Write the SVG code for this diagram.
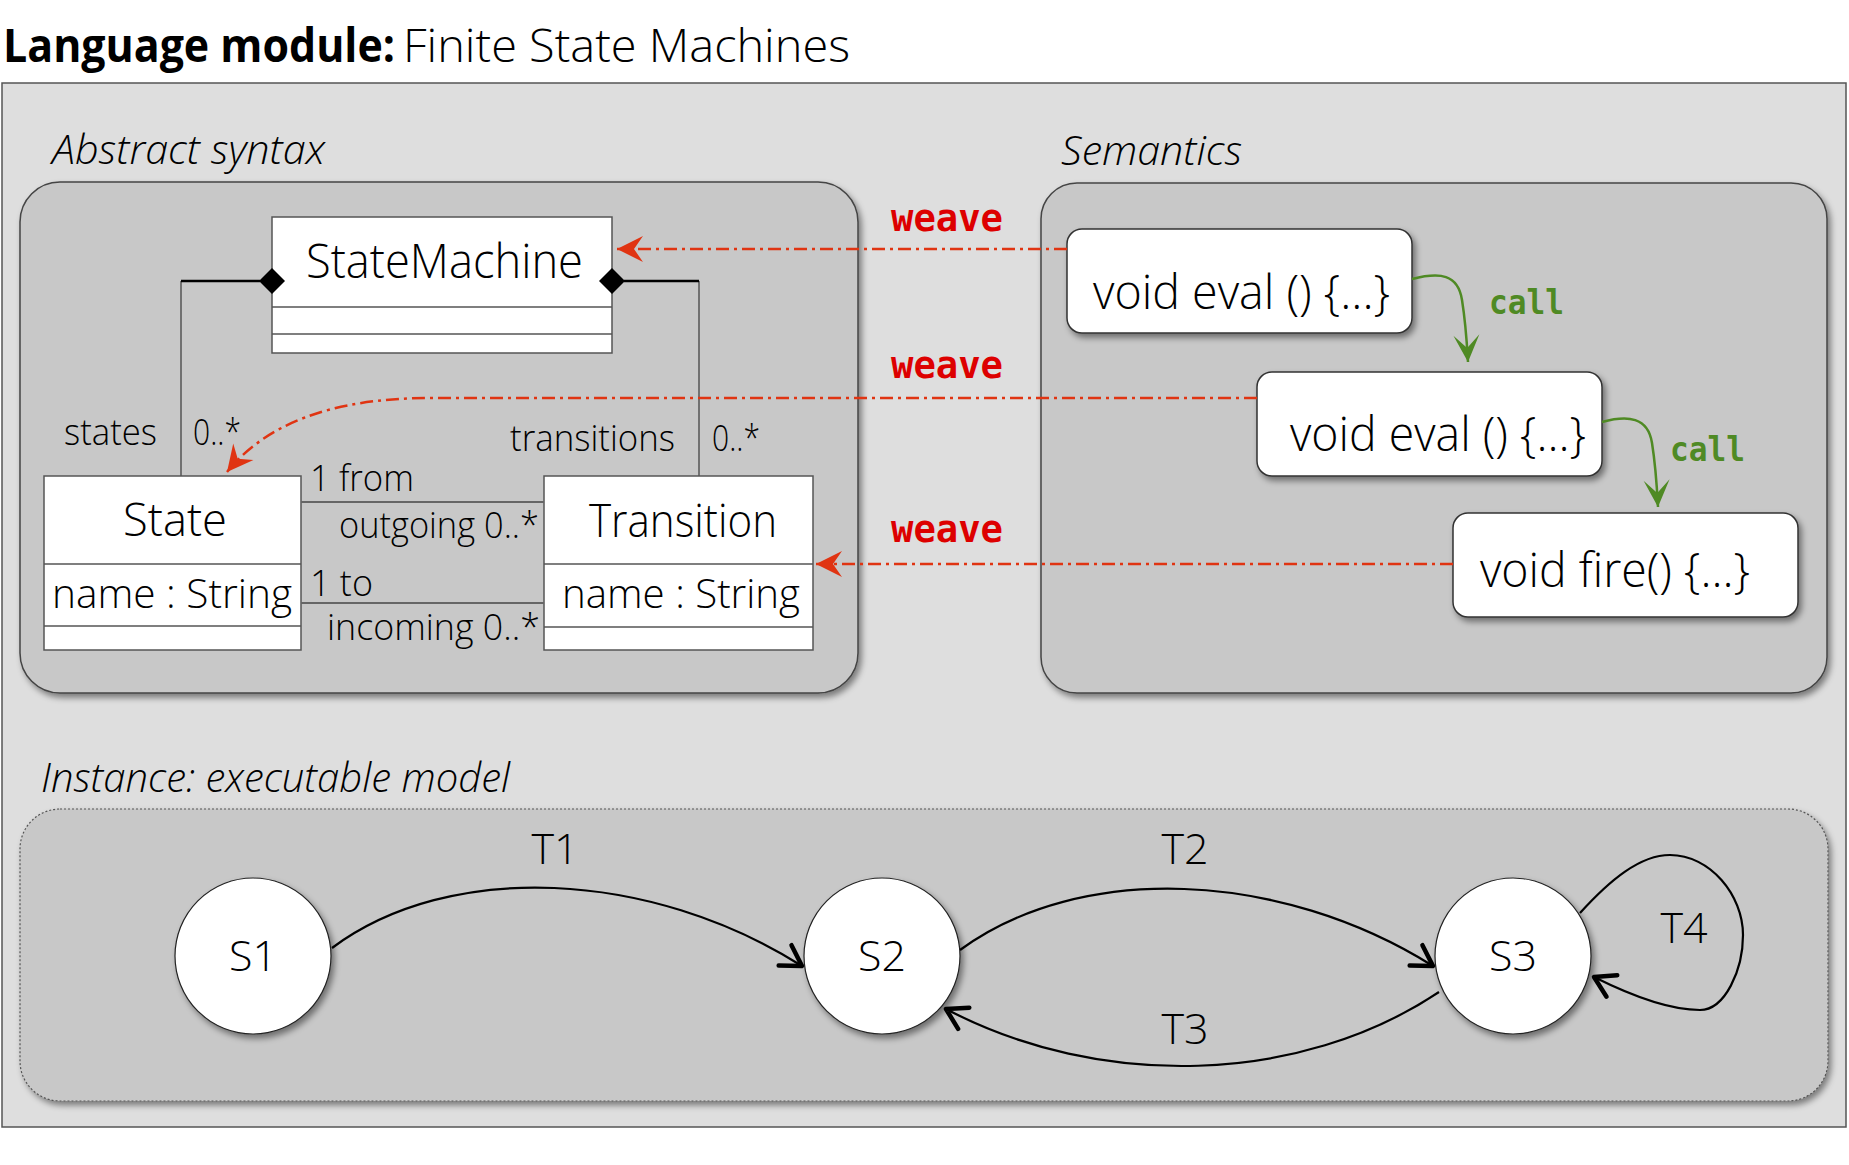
<svg xmlns="http://www.w3.org/2000/svg" width="1849" height="1165" viewBox="0 0 1849 1165">
<style>
.t{font-family:"Open Sans","Noto Sans",sans-serif;font-weight:300;fill:#000}
.b{font-weight:700}
.it{font-style:italic}
.mono{font-family:"DejaVu Sans Mono","Liberation Mono",monospace;font-weight:bold}
.weave{fill:#dd0000;font-size:38px}
.call{fill:#4f8a24;font-size:33px}
.sec{fill:#c8c8c8;stroke:#444;stroke-width:1.5}
.uml{fill:#fff;stroke:#555;stroke-width:1.5}
.code{fill:#fff;stroke:#333;stroke-width:1.5}
.st{fill:#fff;stroke:#222;stroke-width:1.2}
.red{fill:none;stroke:#e03412;stroke-width:2.5;stroke-dasharray:13 5 3 5}
.grn{fill:none;stroke:#4f8a24;stroke-width:2.5}
.edge{fill:none;stroke:#000;stroke-width:2.2}
.assoc{fill:none;stroke:#666;stroke-width:2}
</style>
<defs>
<filter id="sh" x="-10%" y="-10%" width="125%" height="130%">
<feDropShadow dx="3" dy="4" stdDeviation="3" flood-color="#000" flood-opacity="0.45"/>
</filter>
<marker id="ar" markerUnits="userSpaceOnUse" viewBox="-28 -15 30 30" markerWidth="30" markerHeight="30" refX="0" refY="0" orient="auto">
<path d="M0,0 L-26,-13 L-17,0 L-26,13 Z" fill="#e03412"/>
</marker>
<marker id="ag" markerUnits="userSpaceOnUse" viewBox="-28 -15 30 30" markerWidth="30" markerHeight="30" refX="0" refY="0" orient="auto">
<path d="M0,0 L-27,-13 L-14,0 L-27,13 Z" fill="#4f8a24"/>
</marker>
<marker id="ab" markerUnits="userSpaceOnUse" viewBox="-26 -16 30 32" markerWidth="30" markerHeight="32" refX="0" refY="0" orient="auto">
<path d="M-20,-12 L0,0 L-20,12" fill="none" stroke="#000" stroke-width="4.5" stroke-linecap="round" stroke-linejoin="round"/>
</marker>
</defs>

<rect x="0" y="0" width="1849" height="1165" fill="#fff"/>

<!-- Title -->
<text class="t" x="3" y="62" font-size="46"><tspan class="b" textLength="392" lengthAdjust="spacingAndGlyphs">Language module:</tspan></text>
<text class="t" x="403" y="62" font-size="46" textLength="447" lengthAdjust="spacingAndGlyphs">Finite State Machines</text>

<!-- Outer panel -->
<rect x="2" y="83" width="1844" height="1044" fill="#dedede" stroke="#555" stroke-width="1.5"/>

<!-- Section labels -->
<text class="t it" x="52" y="164" font-size="40" textLength="273" lengthAdjust="spacingAndGlyphs">Abstract syntax</text>
<text class="t it" x="1061" y="165" font-size="40" textLength="181" lengthAdjust="spacingAndGlyphs">Semantics</text>
<text class="t it" x="41" y="792" font-size="40" textLength="469" lengthAdjust="spacingAndGlyphs">Instance: executable model</text>

<!-- Sections -->
<g id="abstract-syntax"><rect class="sec" x="20" y="182" width="838" height="511" rx="40" filter="url(#sh)"/></g>
<g id="semantics"><rect class="sec" x="1041" y="183" width="786" height="510" rx="36" filter="url(#sh)"/></g>
<g id="instance"><rect x="20" y="809" width="1808" height="292" rx="40" fill="#c8c8c8" stroke="#555" stroke-width="1.2" stroke-dasharray="2 2" filter="url(#sh)"/></g>

<!-- UML classes -->
<g id="StateMachine">
<rect class="uml" x="272" y="217" width="340" height="136"/>
<line x1="272" y1="307" x2="612" y2="307" stroke="#555" stroke-width="1.5"/>
<line x1="272" y1="334" x2="612" y2="334" stroke="#555" stroke-width="1.5"/>
<text class="t" x="306" y="278" font-size="48" textLength="277" lengthAdjust="spacingAndGlyphs">StateMachine</text>
</g>
<g id="State">
<rect class="uml" x="44" y="476" width="257" height="174"/>
<line x1="44" y1="564" x2="301" y2="564" stroke="#555" stroke-width="1.5"/>
<line x1="44" y1="626" x2="301" y2="626" stroke="#555" stroke-width="1.5"/>
<text class="t" x="175" y="536" font-size="46" text-anchor="middle" textLength="104" lengthAdjust="spacingAndGlyphs">State</text>
<text class="t" x="52" y="608" font-size="40" textLength="240" lengthAdjust="spacingAndGlyphs">name : String</text>
</g>
<g id="Transition">
<rect class="uml" x="544" y="476" width="269" height="174"/>
<line x1="544" y1="564" x2="813" y2="564" stroke="#555" stroke-width="1.5"/>
<line x1="544" y1="627" x2="813" y2="627" stroke="#555" stroke-width="1.5"/>
<text class="t" x="683" y="537" font-size="46" text-anchor="middle" textLength="188" lengthAdjust="spacingAndGlyphs">Transition</text>
<text class="t" x="562" y="608" font-size="40" textLength="238" lengthAdjust="spacingAndGlyphs">name : String</text>
</g>

<!-- Code boxes -->
<g id="eval1">
<rect class="code" x="1067" y="229" width="345" height="104" rx="15" filter="url(#sh)"/>
<text class="t" x="1093" y="309" font-size="48" textLength="297" lengthAdjust="spacingAndGlyphs">void eval () {...}</text>
</g>
<g id="eval2">
<rect class="code" x="1257" y="372" width="345" height="104" rx="15" filter="url(#sh)"/>
<text class="t" x="1290" y="451" font-size="48" textLength="296" lengthAdjust="spacingAndGlyphs">void eval () {...}</text>
</g>
<g id="fire">
<rect class="code" x="1453" y="513" width="345" height="104" rx="15" filter="url(#sh)"/>
<text class="t" x="1480" y="587" font-size="48" textLength="270" lengthAdjust="spacingAndGlyphs">void fire() {...}</text>
</g>

<!-- States -->
<g id="S1"><circle class="st" cx="253" cy="956" r="78" filter="url(#sh)"/><text class="t" x="253" y="971" font-size="43" text-anchor="middle">S1</text></g>
<g id="S2"><circle class="st" cx="882" cy="956" r="78" filter="url(#sh)"/><text class="t" x="882" y="971" font-size="43" text-anchor="middle">S2</text></g>
<g id="S3"><circle class="st" cx="1513" cy="956" r="78" filter="url(#sh)"/><text class="t" x="1513" y="971" font-size="43" text-anchor="middle">S3</text></g>

<!-- Connectors -->
<g id="connectors">
<!-- compositions -->
<polyline points="181,476 181,281" fill="none" stroke="#555" stroke-width="1.5"/>
<line x1="181" y1="281" x2="260" y2="281" stroke="#000" stroke-width="2.5"/>
<polyline points="699,476 699,281" fill="none" stroke="#555" stroke-width="1.5"/>
<line x1="624" y1="281" x2="699" y2="281" stroke="#000" stroke-width="2.5"/>
<polygon points="259,281 272,268 285,281 272,294" fill="#000"/>
<polygon points="599,281 612,268 625,281 612,294" fill="#000"/>
<!-- associations -->
<line class="assoc" x1="301" y1="502" x2="544" y2="502"/>
<line class="assoc" x1="301" y1="603" x2="544" y2="603"/>

<!-- weave -->
<path class="red" d="M1067,249 L617,249" marker-end="url(#ar)"/>
<path class="red" d="M1257,398 L430,398 C330,398 265,425 227,472" marker-end="url(#ar)"/>
<path class="red" d="M1453,564 L816,564" marker-end="url(#ar)"/>

<!-- call -->
<path class="grn" d="M1412,279 C1440,272 1458,274 1462,300 C1466,325 1467,345 1468,362" marker-end="url(#ag)"/>
<path class="grn" d="M1602,422 C1628,415 1648,417 1652,443 C1656,468 1657,488 1658,507" marker-end="url(#ag)"/>

<!-- transitions -->
<path class="edge" d="M332,948 C450,860 650,870 802,966" marker-end="url(#ab)"/>
<path class="edge" d="M960,950 C1080,862 1280,870 1433,966" marker-end="url(#ab)"/>
<path class="edge" d="M1439,992 C1300,1085 1100,1090 946,1009" marker-end="url(#ab)"/>
<path class="edge" d="M1580,913 C1610,880 1640,855 1670,855 C1710,855 1743,895 1743,935 C1743,970 1725,1010 1700,1010 C1670,1010 1630,995 1594,977" marker-end="url(#ab)"/>
</g>

<!-- Labels -->
<g id="labels">
<text class="t" x="64" y="445" font-size="36" textLength="93" lengthAdjust="spacingAndGlyphs">states</text>
<text class="t" x="193" y="445" font-size="36" textLength="48" lengthAdjust="spacingAndGlyphs">0..*</text>
<text class="t" x="510" y="451" font-size="36" textLength="165" lengthAdjust="spacingAndGlyphs">transitions</text>
<text class="t" x="712" y="451" font-size="36" textLength="48" lengthAdjust="spacingAndGlyphs">0..*</text>
<text class="t" x="310" y="491" font-size="36" textLength="104" lengthAdjust="spacingAndGlyphs">1 from</text>
<text class="t" x="339" y="538" font-size="36" textLength="200" lengthAdjust="spacingAndGlyphs">outgoing 0..*</text>
<text class="t" x="310" y="596" font-size="36" textLength="63" lengthAdjust="spacingAndGlyphs">1 to</text>
<text class="t" x="327" y="640" font-size="36" textLength="213" lengthAdjust="spacingAndGlyphs">incoming  0..*</text>

<text class="mono weave" x="891" y="231" textLength="112" lengthAdjust="spacingAndGlyphs">weave</text>
<text class="mono weave" x="891" y="378" textLength="112" lengthAdjust="spacingAndGlyphs">weave</text>
<text class="mono weave" x="891" y="542" textLength="112" lengthAdjust="spacingAndGlyphs">weave</text>
<text class="mono call" x="1489" y="314" textLength="75" lengthAdjust="spacingAndGlyphs">call</text>
<text class="mono call" x="1670" y="461" textLength="75" lengthAdjust="spacingAndGlyphs">call</text>

<text class="t" x="555" y="864" font-size="43" text-anchor="middle">T1</text>
<text class="t" x="1185" y="864" font-size="43" text-anchor="middle">T2</text>
<text class="t" x="1185" y="1044" font-size="43" text-anchor="middle">T3</text>
<text class="t" x="1684" y="943" font-size="43" text-anchor="middle">T4</text>
</g>
</svg>
